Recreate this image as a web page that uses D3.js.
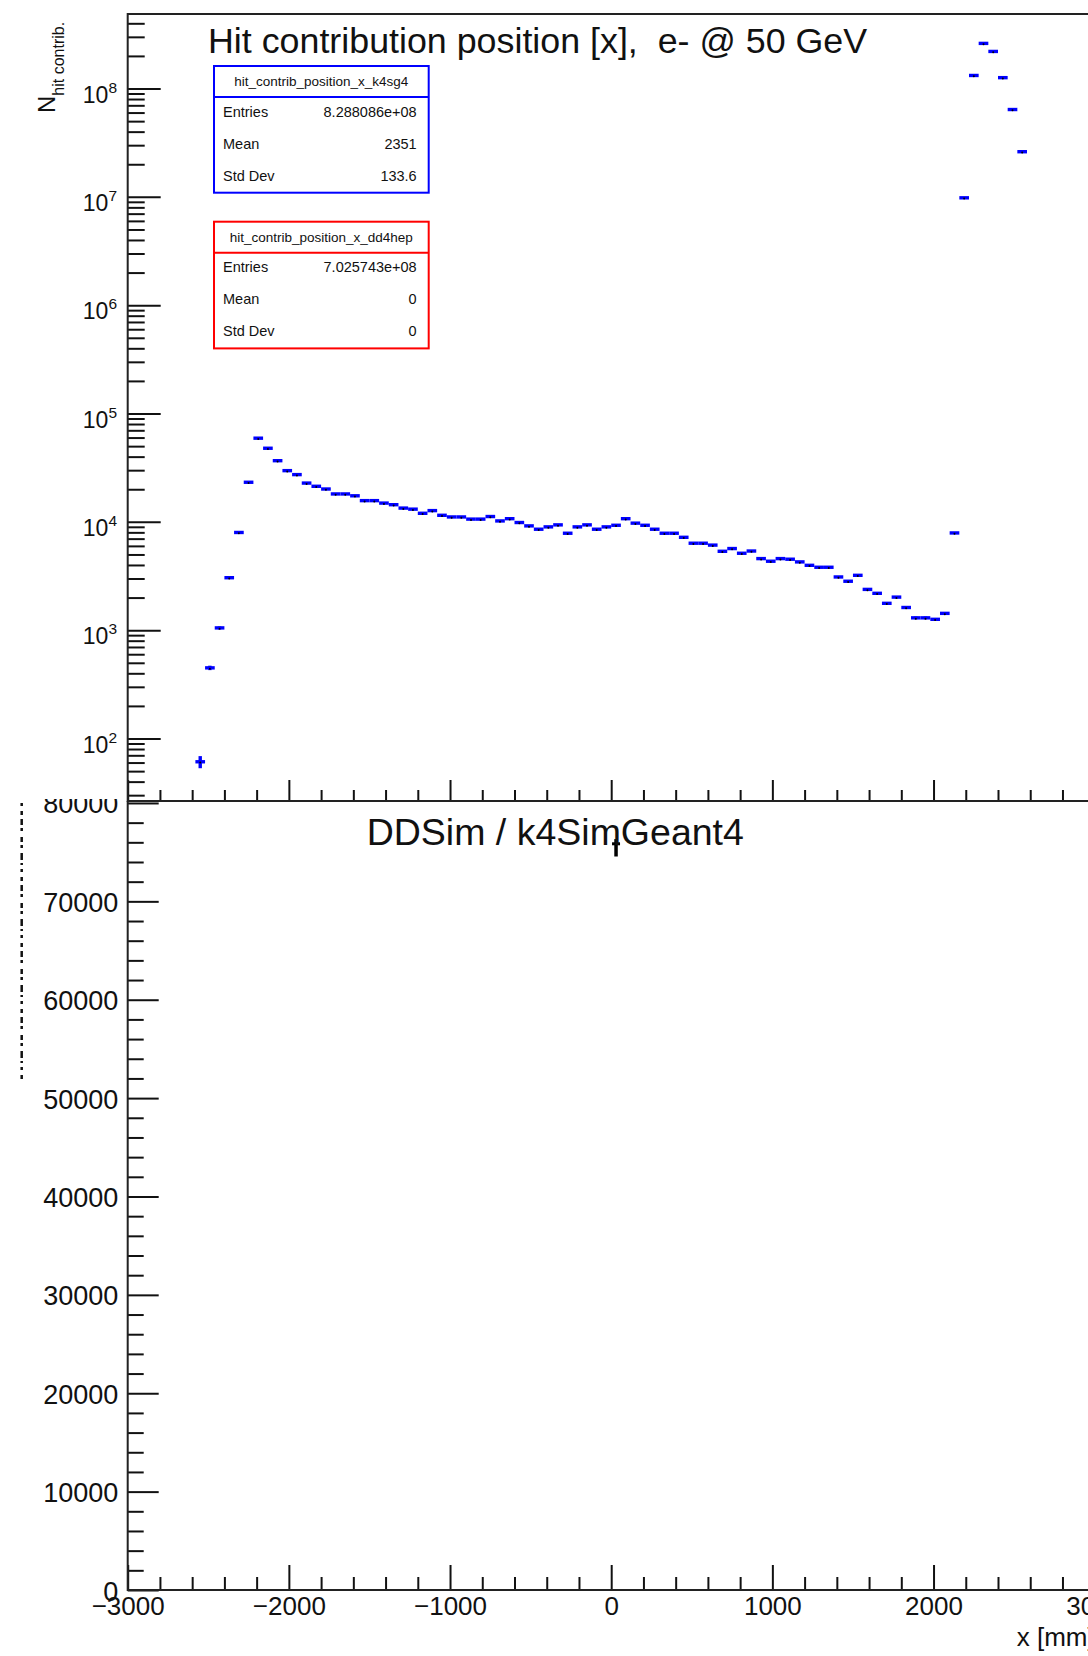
<!DOCTYPE html>
<html>
<head>
<meta charset="utf-8">
<script src="https://cdn.jsdelivr.net/npm/d3@7"></script>
<style>
  body { margin: 0; background: #fff; }
  svg { display: block; font-family: "Liberation Sans", Arial, sans-serif; }
</style>
</head>
<body>
<div id="chart"></div>
<script>
'use strict';

// binning of both histograms
var xMin = -3000, xMax = 3000, nBins = 100;

// k4SimGeant4 bin contents, starting at bin 7 (centre -2550)
var k4FirstBin = 7;
var k4Counts = [
  61, 449, 1050, 3050, 7980, 23200, 59200, 47800, 36700, 29700,
  27300, 22800, 21300, 20100, 18100, 18100, 17400, 15700, 15700, 14900,
  14400, 13400, 13100, 12000, 12700, 11500, 11100, 11100, 10600, 10600,
  11200, 10200, 10700, 9860, 9180, 8550, 8990, 9380, 7850, 8990,
  9380, 8550, 8990, 9300, 10700, 9730, 9300, 8550, 7850, 7850,
  7200, 6350, 6350, 6100, 5350, 5670, 5130, 5380, 4580, 4330,
  4580, 4520, 4270, 3970, 3810, 3810, 3100, 2830, 3210, 2380,
  2190, 1770, 2020, 1620, 1300, 1300, 1260, 1430, 7900, 9.8e6,
  1.32e8, 2.61e8, 2.2e8, 1.26e8, 6.4e7, 2.61e7
];

// DDSim (dd4hep) : everything sits in one bin
var ddBins = [50];
var ddCounts = [7.025743e8];

var k4Name = "hit_contrib_position_x_k4sg4";
var ddName = "hit_contrib_position_x_dd4hep";
var statLabels = ["Entries", "Mean", "Std Dev"];
var k4StatValues = ["8.288086e+08", "2351", "133.6"];
var ddStatValues = ["7.025743e+08", "0", "0"];

var xMajorTicks = [-3000, -2000, -1000, 0, 1000, 2000, 3000];
var logMajorTicks = [1e2, 1e3, 1e4, 1e5, 1e6, 1e7, 1e8];
var ratioMajorTicks = [0, 10000, 20000, 30000, 40000, 50000, 60000, 70000, 80000];

var W = 1088, H = 1656;
var font = "Liberation Sans, Arial, sans-serif";

var binW = (xMax - xMin) / nBins;
var x = d3.scaleLinear().domain([xMin, xMax]).range([127.7, 1094.7]);
var yTop = d3.scaleLog().domain([26.5, 4.875e8]).range([801, 14]);
var yBot = d3.scaleLinear().domain([0, 80200]).range([1590, 801]);

var svg = d3.select("#chart").append("svg")
  .attr("width", W)
  .attr("height", H);

svg.append("rect").attr("width", W).attr("height", H).attr("fill", "#fff");

function styleAxis(g, size) {
  g.attr("font-family", font)
    .attr("font-size", size)
    .attr("color", "#111")
    .attr("stroke-width", 2);
  g.select(".domain").remove();
}

// ---------------- bottom pad (ratio) ----------------
var botPad = svg.append("g").attr("class", "ratio");

var xMinor = d3.range(xMin, xMax + 1, 200).filter(function(d) { return d % 1000 !== 0; });

botPad.append("g")
  .attr("transform", "translate(0,1590)")
  .call(d3.axisBottom(x).tickValues(xMinor).tickSizeInner(-13).tickSizeOuter(0).tickFormat(""))
  .call(styleAxis, 26);

botPad.append("g")
  .attr("transform", "translate(0,1590)")
  .call(d3.axisBottom(x).tickValues(xMajorTicks).tickSizeInner(-25).tickSizeOuter(0).tickPadding(6.5)
    .tickFormat(function(d) { return d < 0 ? "\u2212" + Math.abs(d) : d; }))
  .call(styleAxis, 26)
  .selectAll("text").attr("fill", "#111");

var ratioMinor = d3.range(0, 80201, 2000).filter(function(d) { return d % 10000 !== 0; });

botPad.append("g")
  .attr("transform", "translate(127.7,0)")
  .call(d3.axisLeft(yBot).tickValues(ratioMinor).tickSizeInner(-16).tickSizeOuter(0).tickFormat(""))
  .call(styleAxis, 27);

botPad.append("g")
  .attr("transform", "translate(127.7,0)")
  .call(d3.axisLeft(yBot).tickValues(ratioMajorTicks).tickSizeInner(-31).tickSizeOuter(0).tickPadding(9.4)
    .tickFormat(d3.format("d")))
  .call(styleAxis, 27)
  .selectAll("text").attr("dy", 10).attr("fill", "#111");

// frame
botPad.append("path")
  .attr("d", "M127.7,801V1590H" + W)
  .attr("fill", "none").attr("stroke", "#222").attr("stroke-width", 2);

// ratio points DDSim / k4SimGeant4
var ratio = ddBins.map(function(b, i) {
  var den = k4Counts[b - k4FirstBin];
  var r = ddCounts[i] / den;
  return {
    c: xMin + (b + 0.5) * binW,
    r: r,
    e: r * Math.sqrt(1 / ddCounts[i] + 1 / den)
  };
});

var rp = botPad.append("g").attr("stroke", "#000");
rp.selectAll(".ev").data(ratio).enter().append("line")
  .attr("x1", function(d) { return x(d.c); })
  .attr("x2", function(d) { return x(d.c); })
  .attr("y1", function(d) { return yBot(d.r + d.e); })
  .attr("y2", function(d) { return yBot(d.r - d.e) + 2; })
  .attr("stroke-width", 3.5);
rp.selectAll(".eh").data(ratio).enter().append("line")
  .attr("x1", function(d) { return x(d.c) - 4; })
  .attr("x2", function(d) { return x(d.c) + 4; })
  .attr("y1", function(d) { return yBot(d.r) - 3; })
  .attr("y2", function(d) { return yBot(d.r) - 3; })
  .attr("stroke-width", 3);

botPad.append("text")
  .attr("x", 366.7).attr("y", 845)
  .attr("font-size", 37.5).attr("fill", "#111")
  .text("DDSim / k4SimGeant4");

botPad.append("text")
  .attr("x", 1094.7).attr("y", 1646)
  .attr("text-anchor", "end")
  .attr("font-size", 26).attr("fill", "#111")
  .text("x [mm]");

// squashed y title of the ratio pad
botPad.append("path")
  .attr("d", "M21.7,803V1080")
  .attr("stroke", "#111").attr("stroke-width", 2.5)
  .attr("stroke-dasharray", "3,5,4,4,6,3,3,6,5,3,3,5,7,3,2,4");

// ---------------- top pad (log) ----------------
var topPad = svg.append("g").attr("class", "main");

topPad.append("rect").attr("width", W).attr("height", 799).attr("fill", "#fff");

topPad.append("g")
  .attr("transform", "translate(0,801)")
  .call(d3.axisBottom(x).tickValues(xMinor).tickSizeInner(-11).tickSizeOuter(0).tickFormat(""))
  .call(styleAxis, 26);
topPad.append("g")
  .attr("transform", "translate(0,801)")
  .call(d3.axisBottom(x).tickValues(xMajorTicks).tickSizeInner(-21).tickSizeOuter(0).tickFormat(""))
  .call(styleAxis, 26);

var logMinor = [];
[1, 2, 3, 4, 5, 6, 7, 8].forEach(function(p) {
  d3.range(2, 10).forEach(function(m) {
    var v = m * Math.pow(10, p);
    if (v >= 26.5 && v <= 4.875e8) logMinor.push(v);
  });
});

topPad.append("g")
  .attr("transform", "translate(127.7,0)")
  .call(d3.axisLeft(yTop).tickValues(logMinor).tickSizeInner(-17).tickSizeOuter(0).tickFormat(""))
  .call(styleAxis, 22.5);

var yAx = topPad.append("g")
  .attr("transform", "translate(127.7,0)")
  .call(d3.axisLeft(yTop).tickValues(logMajorTicks).tickSizeInner(-33).tickSizeOuter(0).tickPadding(10.7).tickFormat(""))
  .call(styleAxis, 23);

yAx.selectAll(".tick text")
  .attr("dy", 13.7)
  .attr("fill", "#111")
  .each(function(d) {
    var t = d3.select(this);
    t.append("tspan").text("10");
    t.append("tspan").attr("dy", -10).attr("font-size", 15.5).text(Math.round(Math.log10(d)));
  });

topPad.append("path")
  .attr("d", "M" + W + ",14H127.7V801H" + W)
  .attr("fill", "none").attr("stroke", "#222").attr("stroke-width", 2);

// y title
var yt = topPad.append("text")
  .attr("transform", "translate(55,113) rotate(-90)")
  .attr("fill", "#111")
  .attr("font-size", 24);
yt.append("tspan").text("N");
yt.append("tspan").attr("dy", 9).attr("font-size", 16).text("hit contrib.");

topPad.append("text")
  .attr("x", 208).attr("y", 53)
  .attr("font-size", 35.8).attr("fill", "#111")
  .attr("xml:space", "preserve")
  .text("Hit contribution position [x],  e- @ 50 GeV");

// k4sg4 histogram, blue error bars
var pts = k4Counts.map(function(n, i) {
  var b = k4FirstBin + i;
  return { lo: xMin + b * binW, hi: xMin + (b + 1) * binW, c: xMin + (b + 0.5) * binW, n: n };
});

var hist = topPad.append("g").attr("stroke", "#0000ff").attr("stroke-width", 3.4);
hist.selectAll(".h").data(pts).enter().append("line")
  .attr("x1", function(d) { return x(d.lo); })
  .attr("x2", function(d) { return x(d.hi); })
  .attr("y1", function(d) { return yTop(d.n); })
  .attr("y2", function(d) { return yTop(d.n); });
hist.selectAll(".v").data(pts).enter().append("line")
  .attr("x1", function(d) { return x(d.c); })
  .attr("x2", function(d) { return x(d.c); })
  .attr("y1", function(d) { return yTop(d.n + Math.sqrt(d.n)); })
  .attr("y2", function(d) { return yTop(Math.max(d.n - Math.sqrt(d.n), 1)); });
topPad.append("g").selectAll("circle").data(pts).enter().append("circle")
  .attr("cx", function(d) { return x(d.c); })
  .attr("cy", function(d) { return yTop(d.n) + 0.8; })
  .attr("r", 1)
  .attr("fill", "#000");

// stats boxes
function statBox(y0, color, name, values) {
  var g = topPad.append("g");
  g.append("rect")
    .attr("x", 214).attr("y", y0)
    .attr("width", 214.7).attr("height", 126.7)
    .attr("fill", "#fff").attr("stroke", color).attr("stroke-width", 2);
  g.append("line")
    .attr("x1", 214).attr("x2", 428.7)
    .attr("y1", y0 + 31).attr("y2", y0 + 31)
    .attr("stroke", color).attr("stroke-width", 2);
  g.append("text")
    .attr("x", 321.3).attr("y", y0 + 20)
    .attr("text-anchor", "middle")
    .attr("font-size", 13.5).attr("fill", "#111")
    .text(name);
  statLabels.forEach(function(l, i) {
    var yy = y0 + 50.5 + i * 32;
    g.append("text").attr("x", 223).attr("y", yy)
      .attr("font-size", 14.5).attr("fill", "#111").text(l);
    g.append("text").attr("x", 416.7).attr("y", yy)
      .attr("text-anchor", "end")
      .attr("font-size", 14.5).attr("fill", "#111").text(values[i]);
  });
}
statBox(66, "#0000ff", k4Name, k4StatValues);
statBox(221.7, "#ff0000", ddName, ddStatValues);
</script>
</body>
</html>
